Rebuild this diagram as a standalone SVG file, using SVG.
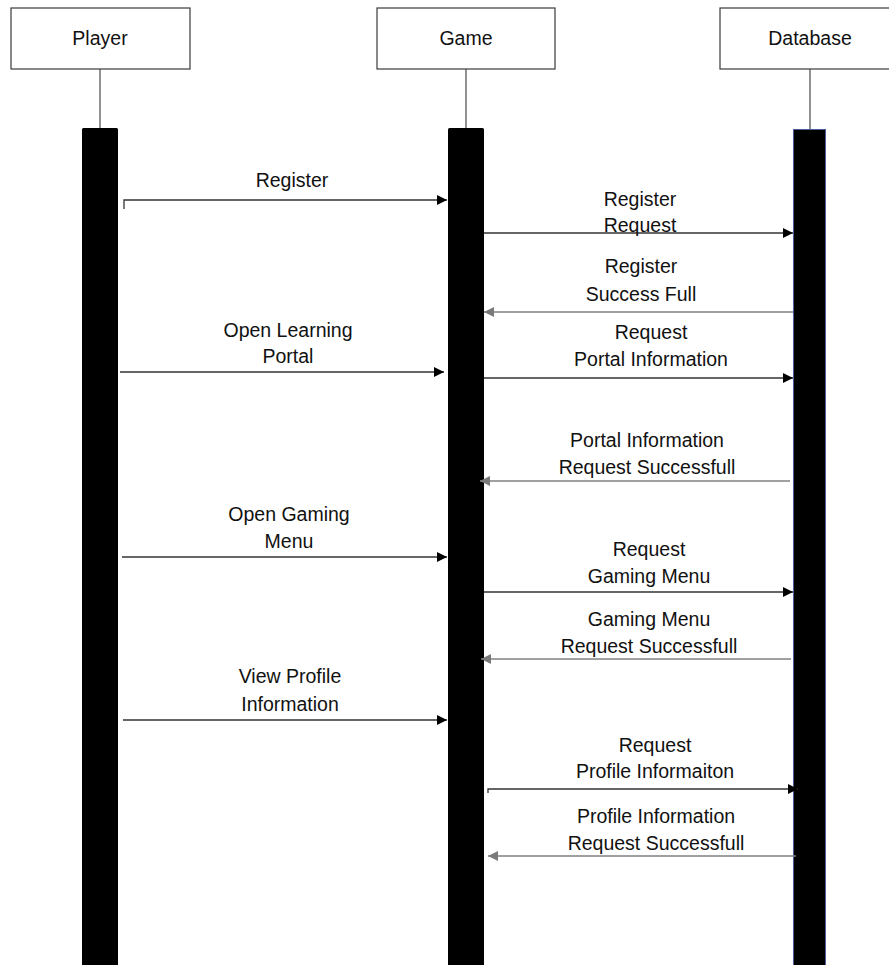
<svg xmlns="http://www.w3.org/2000/svg" width="889" height="965" viewBox="0 0 889 965">
  <style>
    .head { fill: #ffffff; stroke: #3a3a3a; stroke-width: 1.2; }
    .life { stroke: #4a4a4a; stroke-width: 1.2; fill: none; }
    .bar { fill: #000000; }
    .txt { font-family: "Liberation Sans", Arial, sans-serif; font-size: 19.5px; fill: #111111; text-anchor: middle; }
    .call { stroke: #333333; stroke-width: 1.3; fill: none; }
    .ret { stroke: #808080; stroke-width: 1.5; fill: none; }
  </style>
  <defs>
    <marker id="solid" viewBox="0 0 10 10" refX="10" refY="5" markerWidth="10" markerHeight="10" markerUnits="userSpaceOnUse" orient="auto">
      <path d="M0,0 L10,5 L0,10 z" fill="#000000"/>
    </marker>
    <marker id="grey" viewBox="0 0 10 10" refX="10" refY="5" markerWidth="10" markerHeight="10" markerUnits="userSpaceOnUse" orient="auto">
      <path d="M0,0 L10,5 L0,10 z" fill="#7a7a7a"/>
    </marker>
  </defs>

  <rect width="889" height="965" fill="#ffffff"/>

  <!-- Player -->
  <g id="player">
    <rect class="head" x="11" y="8" width="179" height="61"/>
    <text class="txt" x="100" y="45">Player</text>
    <line class="life" x1="100" y1="69" x2="100" y2="128"/>
    <rect class="bar" x="82" y="128" width="36" height="840" rx="1.5"/>
  </g>

  <!-- Game -->
  <g id="game">
    <rect class="head" x="377" y="8" width="178" height="61"/>
    <text class="txt" x="466" y="45">Game</text>
    <line class="life" x1="466" y1="69" x2="466" y2="128"/>
    <rect class="bar" x="448" y="128" width="36" height="840" rx="1.5"/>
  </g>

  <!-- Database -->
  <g id="database">
    <rect class="head" x="720" y="8" width="175" height="61"/>
    <text class="txt" x="810" y="45">Database</text>
    <line class="life" x1="810" y1="69" x2="810" y2="129"/>
    <rect class="bar" x="793.5" y="129.5" width="32" height="840" stroke="#4a5f96" stroke-width="1"/>
  </g>

  <!-- Messages -->
  <g id="connectors">
    <path class="call" d="M124,209 V200 H447" marker-end="url(#solid)"/>
    <path class="call" d="M484,233 H793" marker-end="url(#solid)"/>
    <path class="ret" d="M793,312 H484" marker-end="url(#grey)"/>
    <path class="call" d="M120,372 H444" marker-end="url(#solid)"/>
    <path class="call" d="M484,378 H793" marker-end="url(#solid)"/>
    <path class="ret" d="M790,481 H480" marker-end="url(#grey)"/>
    <path class="call" d="M122,557 H447" marker-end="url(#solid)"/>
    <path class="call" d="M484,592 H793" marker-end="url(#solid)"/>
    <path class="ret" d="M791,659 H481" marker-end="url(#grey)"/>
    <path class="call" d="M123,720 H447" marker-end="url(#solid)"/>
    <path class="call" d="M488,793 V789 H798" marker-end="url(#solid)"/>
    <path class="ret" d="M796,856 H488" marker-end="url(#grey)"/>
  </g>

  <!-- Message labels -->
  <g id="labels">
    <text class="txt" x="292" y="187">Register</text>

    <text class="txt" x="640" y="206">Register</text>
    <text class="txt" x="640" y="232">Request</text>

    <text class="txt" x="641" y="273">Register</text>
    <text class="txt" x="641" y="301">Success Full</text>

    <text class="txt" x="288" y="337">Open Learning</text>
    <text class="txt" x="288" y="363">Portal</text>

    <text class="txt" x="651" y="339">Request</text>
    <text class="txt" x="651" y="366">Portal Information</text>

    <text class="txt" x="647" y="447">Portal Information</text>
    <text class="txt" x="647" y="474">Request Successfull</text>

    <text class="txt" x="289" y="521">Open Gaming</text>
    <text class="txt" x="289" y="548">Menu</text>

    <text class="txt" x="649" y="556">Request</text>
    <text class="txt" x="649" y="583">Gaming Menu</text>

    <text class="txt" x="649" y="626">Gaming Menu</text>
    <text class="txt" x="649" y="653">Request Successfull</text>

    <text class="txt" x="290" y="683">View Profile</text>
    <text class="txt" x="290" y="711">Information</text>

    <text class="txt" x="655" y="752">Request</text>
    <text class="txt" x="655" y="778">Profile Informaiton</text>

    <text class="txt" x="656" y="823">Profile Information</text>
    <text class="txt" x="656" y="850">Request Successfull</text>
  </g>
</svg>
